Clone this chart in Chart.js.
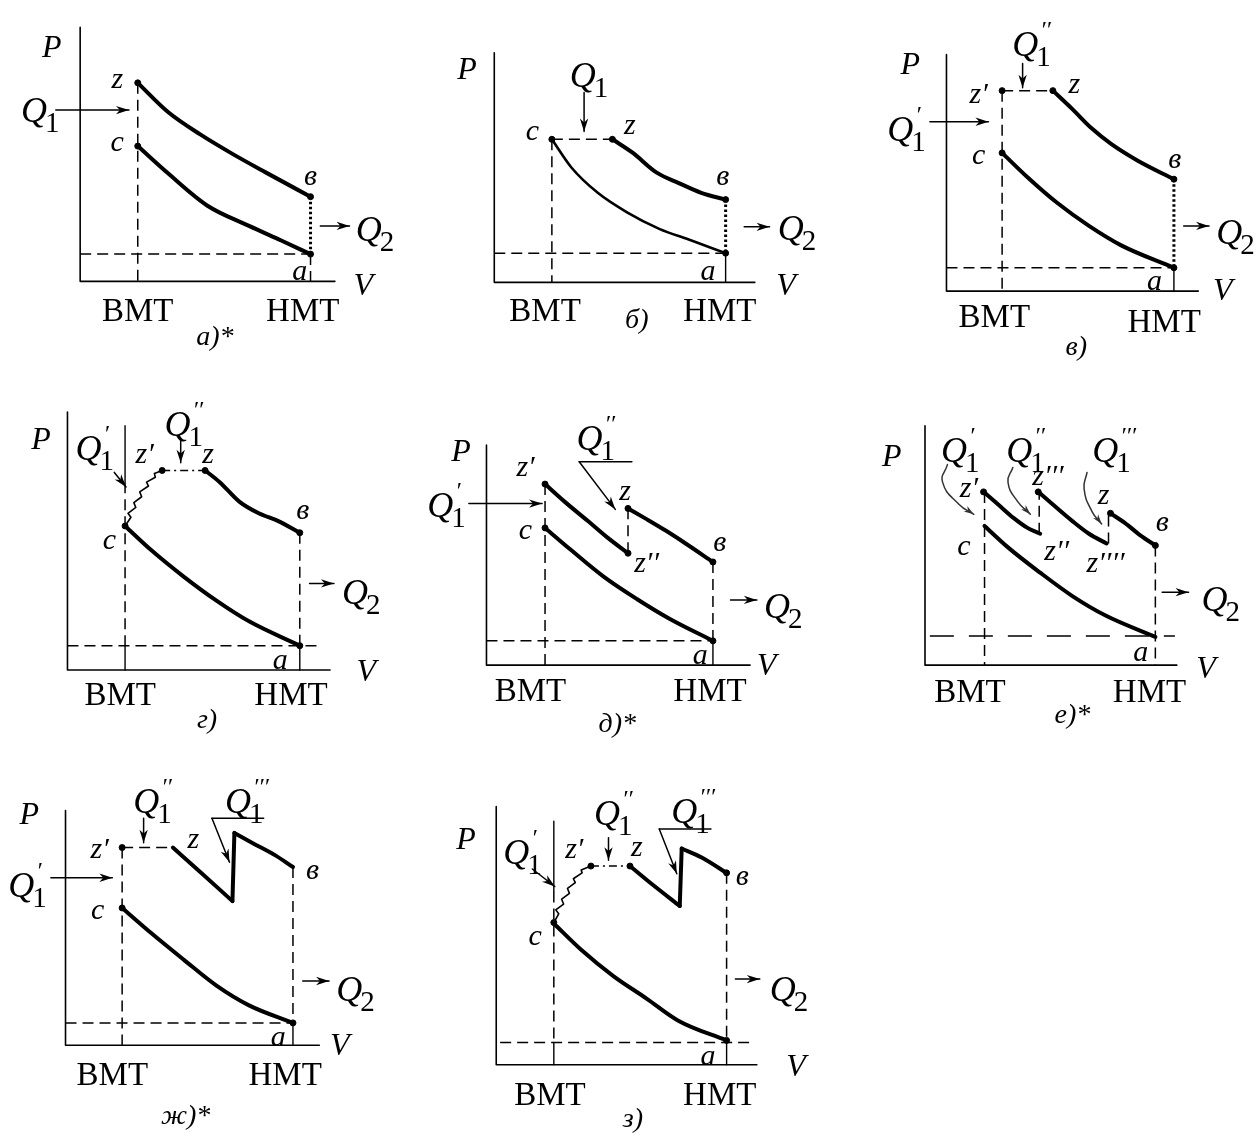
<!DOCTYPE html>
<html lang="ru">
<head>
<meta charset="utf-8">
<script src="https://cdn.jsdelivr.net/npm/chart.js@4.4.1/dist/chart.umd.min.js"></script>
<style>
  html, body { margin: 0; background: #fff; font-family: "Liberation Serif", Tinos, "Times New Roman", "DejaVu Serif", serif; }
  #page { position: relative; width: 1257px; height: 1137px; overflow: hidden; background: #fff; }
  #page canvas { position: absolute; }
  .note { position: absolute; transform: translate(-50%, -50%); white-space: nowrap; line-height: 1;
          font-family: "Liberation Serif", Tinos, "Times New Roman", "DejaVu Serif", serif; color: #000; }
  .pt { font-style: italic; font-size: 30px; }
  .axis { font-style: italic; font-size: 32px; }
  .tdc { font-size: 33px; }
  .cap { font-style: italic; font-size: 28px; }
  .q { font-style: italic; font-size: 36px; }
  .q .sub { font-style: normal; font-size: 29px; position: relative; top: 10px; margin-left: -2px; }
  .q .sup { font-size: 24px; position: absolute; left: 28px; top: -9px; }
</style>
</head>
<body>
<div id="page"></div>
<script>
// Values. Every panel has its own V/P units,
// with the origin where the P axis meets the V axis.

// а)*
const aAxes = [261, 261];   // [V axis, P axis]
const aExpansion = [[59,204],[90,174],[123,151],[156,131],[190,112],[236,87]];
const aCompression = [[59,139],[90,111],[130,78],[173,57],[206,42],[236,28]];
const aDashed = [[[59,204],[59,0]], [[0,28],[236,28]], [[236,28],[236,0]]];
const aDotted = [[[236,87],[236,28]]];
const aArrows = [[[-25,176],[50,176]], [[246,57],[276,57]]];
const aDots = [[59,204],[59,139],[236,87],[236,28]];
const aNotes = [['P',-29,242],['V',290,-3],['z',38,209],['c',38,144],['в',236,109],['a',225,12],
  ['Q_1',-41,176],['Q_2',302,54],['ВМТ',59,-29],['НМТ',228,-29],['а)*',138,-56]];

// б)
const bAxes = [267, 236];
const bExpansion = [[121,147],[142,133],[166,113],[189,102],[212,92],[237,85]];
const bCompression = [[59,147],[79,118],[106,92],[136,72],[169,55],[202,43],[237,30]];
const bDashed = [[[59,147],[121,147]], [[59,147],[59,0]], [[0,30],[237,30]]];
const bDotted = [[[237,85],[237,30]]];
const bThin = [[[237,30],[237,0]]];
const bArrows = [[[92,195],[92,155]], [[256,57],[282,57]]];
const bDots = [[59,147],[121,147],[237,85],[237,30]];
const bNotes = [['P',-28,220],['V',299,-2],['c',39,157],['z',139,163],['в',234,110],['a',219,13],
  ['Q_1',97,213],['Q_2',310,56],['ВМТ',52,-28],['НМТ',231,-28],['б)',146,-38]];

// в)
const vAxes = [258, 243];
const vExpansion = [[109,206],[129,187],[149,167],[169,151],[196,134],[233,115]];
const vCompression = [[57,142],[83,117],[113,91],[146,67],[179,47],[233,24]];
const vDashed = [[[57,206],[109,206]], [[57,206],[57,0]], [[0,24],[233,24]]];
const vDotted = [[[233,115],[233,24]]];
const vThin = [[[233,24],[233,0]]];
const vArrows = [[[78,234],[78,209]], [[-17,174],[43,174]], [[243,67],[269,67]]];
const vDots = [[57,206],[109,206],[57,142],[233,115],[233,24]];
const vNotes = [['P',-37,234],['V',283,2],['z′',33,204],['z',131,214],['c',33,141],['в',234,137],['a',213,11],
  ['Q_1′′',87,254],['Q_1′',-41,167],['Q_2',296,61],['ВМТ',49,-26],['НМТ',223,-31],['в)',133,-56]];

// г)
const gAxes = [269, 265];
const gExpansion = [[141,205],[156,193],[176,173],[196,161],[216,153],[238,141]];
const gCompression = [[59,148],[86,123],[119,96],[153,71],[186,50],[238,25]];
const gZigzag = [[59,148],[65,157],[62,161],[70,167],[68,172],[76,178],[74,183],[83,189],[81,193],[90,198],[89,202],[97,205]];
const gDashDot = [[[97,205],[141,205]]];
const gDashed = [[[59,193],[59,25]], [[238,141],[238,25]], [[0,25],[259,25]]];
const gThin = [[[59,251],[59,193]], [[59,25],[59,0]], [[238,25],[238,0]]];
const gArrows = [[[116,235],[116,213]], [[48,203],[60,188]], [[248,89],[273,89]]];
const gDots = [[59,148],[97,205],[141,205],[238,141],[238,25]];
const gNotes = [['P',-27,238],['V',306,0],['z′',79,223],['z',144,223],['c',43,135],['в',241,165],['a',218,11],
  ['Q_1′′',119,253],['Q_1′',28,228],['Q_2',301,80],['ВМТ',54,-25],['НМТ',229,-25],['г)',143,-50]];

// д)*
const dAxes = [270, 226];
const dFirst = [[60,186],[80,168],[104,148],[124,131],[145,115]];
const dSecond = [[145,161],[164,150],[184,138],[204,125],[232,106]];
const dCompression = [[60,141],[87,118],[120,91],[154,68],[187,48],[232,25]];
const dDashed = [[[145,115],[145,161]], [[60,186],[60,0]], [[232,106],[232,25]], [[0,25],[232,25]]];
const dThin = [[[232,25],[232,0]], [[95,209],[149,209]]];
const dArrows = [[[-18,166],[57,166]], [[95,209],[132,160]], [[250,67],[277,67]]];
const dDots = [[60,186],[60,141],[145,161],[145,115],[232,106],[232,25]];
const dNotes = [['P',-26,221],['V',287,1],['z′',40,205],['z',142,180],['c',40,140],['z′′',164,106],['в',239,128],['a',219,11],
  ['Q_1′',-41,165],['Q_1′′',112,233],['Q_2',304,61],['ВМТ',45,-25],['НМТ',229,-25],['д)*',134,-59]];

// е)*
const eAxes = [258, 246];
const eFirst = [[60,178],[75,165],[91,151],[105,141],[118,135]];
const eSecond = [[116,178],[131,165],[151,148],[168,135],[186,125]];
const eThird = [[190,156],[205,146],[221,133],[236,123]];
const eCompression = [[61,143],[85,121],[118,95],[151,71],[185,51],[236,29]];
const eDashed = [[[61,178],[61,0]], [[117,135],[117,178]], [[188,125],[188,156]], [[236,123],[236,0]]];
const eLongDash = [[[5,30],[256,30]]];
const eBends = [[[23,206],[18,188],[35,165],[50,155]], [[90,203],[85,188],[95,168],[108,155]], [[166,198],[163,181],[171,158],[181,145]]];
const eArrows = [[[243,75],[270,75]]];
const eDots = [[60,178],[116,178],[190,156],[236,123]];
const eNotes = [['P',-34,216],['V',288,-2],['z′',45,183],['z′′′',126,195],['z',183,176],['в',243,148],['c',40,123],
  ['z′′',135,118],['z′′′′',185,106],['a',221,15],['Q_1′',36,221],['Q_1′′',103,221],['Q_1′′′',191,221],['Q_2',303,68],
  ['ВМТ',46,-27],['НМТ',230,-27],['е)*',151,-50]];

// ж)*
const zhAxes = [260, 241];
const zhFirst = [[110,203],[138,178],[171,148]];
const zhDrop = [[171,148],[173,218]];
const zhSecond = [[173,218],[191,208],[215,195],[233,183]];
const zhCompression = [[58,141],[88,115],[121,88],[155,61],[188,41],[233,23]];
const zhDashed = [[[58,203],[110,203]], [[58,203],[58,0]], [[233,183],[233,23]], [[0,23],[233,23]]];
const zhThin = [[[233,23],[233,0]], [[150,233],[203,233]]];
const zhArrows = [[[80,233],[80,208]], [[150,233],[168,188]], [[-15,172],[48,172]], [[243,66],[270,66]]];
const zhDots = [[58,203],[58,141],[233,23]];
const zhNotes = [['P',-37,238],['V',281,1],['z′',35,203],['z',131,213],['c',33,140],['в',253,181],['a',218,10],
  ['Q_1′′',89,251],['Q_1′′′',183,251],['Q_1′',-39,165],['Q_2',297,58],['ВМТ',48,-29],['НМТ',225,-29],['ж)*',123,-72]];

// з)
const zAxes = [267, 265];
const zFirst = [[137,204],[160,185],[188,163]];
const zDrop = [[188,163],[190,222]];
const zSecond = [[190,222],[210,213],[236,197]];
const zCompression = [[59,145],[87,118],[120,91],[154,68],[187,45],[236,25]];
const zZigzag = [[59,146],[64,155],[61,159],[69,165],[67,170],[75,176],[73,181],[81,187],[79,191],[88,197],[87,200],[97,204]];
const zDashDot = [[[97,204],[137,204]]];
const zDashed = [[[59,178],[59,23]], [[236,197],[236,23]], [[4,23],[259,23]]];
const zThin = [[[59,250],[59,178]], [[59,23],[59,0]], [[236,23],[236,0]], [[167,242],[220,242]]];
const zArrows = [[[115,233],[115,210]], [[167,242],[185,196]], [[37,201],[60,183]], [[245,88],[270,88]]];
const zDots = [[59,146],[97,204],[137,204],[236,197],[236,25]];
const zNotes = [['P',-31,233],['V',307,0],['z′',80,223],['z',144,225],['c',40,133],['в',252,195],['a',217,10],
  ['Q_1′′',120,258],['Q_1′′′',199,261],['Q_1′',27,218],['Q_2',300,78],['ВМТ',55,-30],['НМТ',229,-30],['з)',140,-55]];

const STYLE = {
  axis:    { w: 1.6 },
  curve:   { w: 4, tension: 0.4, mono: true },
  medium:  { w: 2.6, tension: 0.4, mono: true },
  bold:    { w: 4 },
  thin:    { w: 1.4 },
  dash:    { w: 1.5, dash: [11, 6] },
  longdash:{ w: 1.5, dash: [24, 15] },
  dot:     { w: 3, dash: [2.5, 2.5] },
  dashdot: { w: 1.6, dash: [8, 4, 2, 4] },
  zig:     { w: 1.6 },
  arrow:   { w: 1.5, head: 13 },
  bend:    { w: 1.5, head: 10, tension: 0.5, color: '#333' }
};

// page layout: [left, top, width, height] of each panel and where its origin sits
const PANELS = [
  { box: [0, 0, 419, 372], origin: [77, 284], axes: aAxes, dots: aDots, notes: aNotes,
    parts: [['dash', aDashed], ['dot', aDotted], ['curve', [aExpansion, aCompression]], ['arrow', aArrows]] },
  { box: [419, 0, 419, 372], origin: [491, 285], axes: bAxes, dots: bDots, notes: bNotes,
    parts: [['dash', bDashed], ['dot', bDotted], ['thin', bThin], ['curve', [bExpansion]], ['medium', [bCompression]], ['arrow', bArrows]] },
  { box: [838, 0, 419, 372], origin: [944, 294], axes: vAxes, dots: vDots, notes: vNotes,
    parts: [['dash', vDashed], ['dot', vDotted], ['thin', vThin], ['curve', [vExpansion, vCompression]], ['arrow', vArrows]] },
  { box: [0, 372, 419, 378], origin: [64, 673], axes: gAxes, dots: gDots, notes: gNotes,
    parts: [['dash', gDashed], ['thin', gThin], ['dashdot', gDashDot], ['zig', [gZigzag]], ['curve', [gExpansion, gCompression]], ['arrow', gArrows]] },
  { box: [419, 372, 419, 378], origin: [483, 668], axes: dAxes, dots: dDots, notes: dNotes,
    parts: [['dash', dDashed], ['thin', dThin], ['curve', [dFirst, dSecond, dCompression]], ['arrow', dArrows]] },
  { box: [838, 372, 419, 378], origin: [922, 668], axes: eAxes, dots: eDots, notes: eNotes,
    parts: [['dash', eDashed], ['longdash', eLongDash], ['curve', [eFirst, eSecond, eThird, eCompression]], ['bend', eBends], ['arrow', eArrows]] },
  { box: [0, 750, 419, 387], origin: [62, 1048], axes: zhAxes, dots: zhDots, notes: zhNotes,
    parts: [['dash', zhDashed], ['thin', zhThin], ['curve', [zhFirst, zhSecond, zhCompression]], ['bold', [zhDrop]], ['arrow', zhArrows]] },
  { box: [419, 750, 419, 387], origin: [493, 1068], axes: zAxes, dots: zDots, notes: zNotes,
    parts: [['dash', zDashed], ['thin', zThin], ['dashdot', zDashDot], ['zig', [zZigzag]], ['curve', [zFirst, zSecond, zCompression]], ['bold', [zDrop]], ['arrow', zArrows]] }
];

const page = document.getElementById('page');

function dataset(style, pts) {
  const s = STYLE[style];
  return {
    data: pts.map(p => ({ x: p[0], y: p[1] })),
    borderColor: s.color || '#000',
    backgroundColor: s.color || '#000',
    borderWidth: s.w,
    borderDash: s.dash || [],
    borderCapStyle: s.dash ? 'butt' : 'round',
    borderJoinStyle: 'round',
    tension: s.tension || 0,
    cubicInterpolationMode: s.mono ? 'monotone' : 'default',
    pointRadius: 0,
    pointHoverRadius: 0,
    fill: false,
    clip: false,
    head: s.head || 0
  };
}

function dotSet(pts) {
  return {
    data: pts.map(p => ({ x: p[0], y: p[1] })),
    showLine: false,
    pointRadius: 3,
    pointBackgroundColor: '#000',
    pointBorderColor: '#000',
    clip: false
  };
}

// arrow heads at the last point of datasets that ask for one
const arrowHeads = {
  id: 'arrowHeads',
  afterDatasetsDraw(chart) {
    const ctx = chart.ctx;
    chart.data.datasets.forEach((ds, i) => {
      if (!ds.head) return;
      const pts = chart.getDatasetMeta(i).data;
      const b = pts[pts.length - 1];
      let ax = pts[pts.length - 2].x, ay = pts[pts.length - 2].y;
      if (ds.tension && b.cp1x !== undefined) { ax = b.cp1x; ay = b.cp1y; }
      const ang = Math.atan2(b.y - ay, b.x - ax);
      const c = Math.cos(ang), s = Math.sin(ang);
      const L = ds.head, W = L * 0.32;
      ctx.save();
      ctx.fillStyle = ds.borderColor;
      ctx.beginPath();
      ctx.moveTo(b.x, b.y);
      ctx.lineTo(b.x - L * c - W * s, b.y - L * s + W * c);
      ctx.lineTo(b.x - L * 0.7 * c, b.y - L * 0.7 * s);
      ctx.lineTo(b.x - L * c + W * s, b.y - L * s - W * c);
      ctx.closePath();
      ctx.fill();
      ctx.restore();
    });
  }
};
Chart.register(arrowHeads);

function kindOf(text) {
  if (text.startsWith('Q_')) return 'q';
  if (text === 'P' || text === 'V') return 'axis';
  if (text === 'ВМТ' || text === 'НМТ') return 'tdc';
  if (text.includes(')')) return 'cap';
  return 'pt';
}

// labels are real text elements; they are created first and placed with the panel's scales
function makeNote(text) {
  const kind = kindOf(text);
  const el = document.createElement('span');
  el.className = 'note ' + kind;
  if (kind === 'q') {
    el.appendChild(document.createTextNode('Q'));
    const sub = document.createElement('span');
    sub.className = 'sub';
    sub.textContent = text.charAt(2);
    el.appendChild(sub);
    if (text.length > 3) {
      const sup = document.createElement('span');
      sup.className = 'sup';
      sup.textContent = text.slice(3);
      el.appendChild(sup);
    }
  } else {
    el.textContent = text;
  }
  page.appendChild(el);
  return el;
}

function notesPlugin(items, box) {
  const els = items.map(it => makeNote(it[0]));
  return {
    id: 'notes',
    afterDraw(chart) {
      const sx = chart.scales.x, sy = chart.scales.y;
      items.forEach(([text, v, p], i) => {
        els[i].style.left = (box[0] + sx.getPixelForValue(v)) + 'px';
        els[i].style.top = (box[1] + sy.getPixelForValue(p)) + 'px';
      });
    }
  };
}

PANELS.forEach(pn => {
  const [left, top, w, h] = pn.box;
  const [ox, oy] = pn.origin;
  const canvas = document.createElement('canvas');
  canvas.width = w;
  canvas.height = h;
  canvas.style.left = left + 'px';
  canvas.style.top = top + 'px';
  canvas.style.width = w + 'px';
  canvas.style.height = h + 'px';
  page.appendChild(canvas);
  const notes = notesPlugin(pn.notes, pn.box);

  const datasets = [dataset('axis', [[0, pn.axes[1]], [0, 0], [pn.axes[0], 0]])];
  pn.parts.forEach(([style, list]) => list.forEach(pts => datasets.push(dataset(style, pts))));
  datasets.push(dotSet(pn.dots));

  new Chart(canvas, {
    type: 'line',
    data: { datasets: datasets },
    options: {
      responsive: false,
      animation: false,
      devicePixelRatio: 1,
      events: [],
      layout: { padding: 0 },
      plugins: { legend: { display: false }, tooltip: { enabled: false } },
      scales: {
        x: { type: 'linear', display: false, min: left - ox, max: left + w - ox },
        y: { type: 'linear', display: false, min: oy - (top + h), max: oy - top }
      }
    },
    plugins: [notes]
  });
});
</script>
</body>
</html>
